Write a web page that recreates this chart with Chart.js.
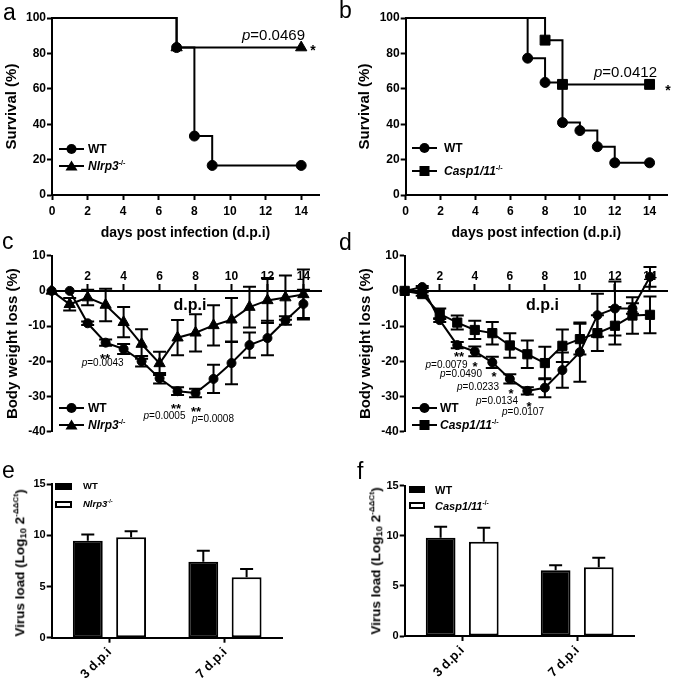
<!DOCTYPE html>
<html><head><meta charset="utf-8">
<script src="https://cdn.jsdelivr.net/npm/chart.js@4.4.1/dist/chart.umd.min.js"></script>
<style>
html,body{margin:0;padding:0;background:#fff;}
#fig{position:relative;width:675px;height:678px;overflow:hidden;background:#fff;font-family:"Liberation Sans",Arial,Helvetica,sans-serif;color:#000;}
#fig canvas{position:absolute;}
.t{position:absolute;white-space:nowrap;line-height:1;}
sup{font-size:0.6em;vertical-align:0.7em;line-height:0;}
sub{font-size:0.7em;vertical-align:-0.25em;line-height:0;}
</style></head>
<body>
<div id="fig">
<canvas id="cA" width="338" height="245" style="left:0;top:0"></canvas>
<canvas id="cB" width="337" height="245" style="left:338px;top:0"></canvas>
<canvas id="cC" width="338" height="195" style="left:0;top:245px"></canvas>
<canvas id="cD" width="337" height="195" style="left:338px;top:245px"></canvas>
<canvas id="cE" width="338" height="238" style="left:0;top:440px"></canvas>
<canvas id="cF" width="337" height="238" style="left:338px;top:440px"></canvas>
</div>
<script>
// ---------------- DATA ----------------
// a: survival, WT vs Nlrp3-/-
const aDaysWT = [0, 7, 8, 9, 14];
const aSurvWT = [100, 83.3, 33.3, 16.7, 16.7];
const aDaysKO = [0, 7, 14];
const aSurvKO = [100, 83.3, 83.3];
// b: survival, WT vs Casp1/11-/-
const bDaysWT = [0, 7, 8, 9, 10, 11, 12, 14];
const bSurvWT = [100, 77.3, 63.6, 40.9, 36.4, 27.3, 18.2, 18.2];
const bDaysKO = [0, 8, 9, 14];
const bSurvKO = [100, 87.5, 62.5, 62.5];
const survXTicks = [0, 2, 4, 6, 8, 10, 12, 14];
const survYTicks = [0, 20, 40, 60, 80, 100];
// c/d: body weight loss (%)
const weightDays = [0, 1, 2, 3, 4, 5, 6, 7, 8, 9, 10, 11, 12, 13, 14];
const cWT    = [0, 0, -9.2, -14.7, -16.5, -20.0, -24.8, -28.5, -29.0, -25.0, -20.5, -15.4, -13.4, -8.4, -3.7];
const cWTsem = [0, 0, 0.5, 0.9, 1.4, 1.5, 1.5, 1.1, 1.2, 4.0, 6.0, 3.6, 4.9, 1.2, 4.0];
const cKO    = [0, -3.8, -1.9, -4.0, -8.9, -15.1, -20.6, -13.3, -11.9, -9.8, -8.2, -4.6, -2.7, -1.9, -1.0];
const cKOsem = [0, 1.8, 2.2, 4.6, 4.3, 4.2, 3.3, 5.0, 5.3, 5.7, 6.2, 5.8, 6.4, 6.3, 7.1];
const dWT    = [0, 1.1, -8.3, -15.4, -17.2, -20.3, -25.0, -28.4, -27.5, -22.5, -17.4, -6.9, -5.0, -5.0, 4.0];
const dWTsem = [0, 0.3, 0.5, 0.9, 1.4, 1.6, 1.3, 1.0, 2.7, 5.0, 8.4, 6.1, 7.7, 1.5, 2.8];
const dKO    = [0, -0.9, -6.5, -9.0, -11.1, -12.0, -15.5, -18.0, -20.5, -15.6, -13.7, -12.0, -9.9, -7.0, -6.8];
const dKOsem = [0, 0.5, 1.5, 2.0, 2.6, 3.2, 3.5, 3.9, 4.6, 4.6, 4.4, 5.1, 5.3, 5.2, 5.2];
const weightXTicks = [2, 4, 6, 8, 10, 12, 14];
const weightYTicks = [-40, -30, -20, -10, 0, 10];
// e/f: virus load
const loadCats = ['3 d.p.i', '7 d.p.i'];
const eWT = [9.49, 7.43], eWTsem = [0.6, 1.08];
const eKO = [9.82, 5.90], eKOsem = [0.58, 0.82];
const fWT = [9.81, 6.55], fWTsem = [1.1, 0.5];
const fKO = [9.41, 6.85], fKOsem = [1.4, 0.97];
const loadYTicks = [0, 5, 10, 15];

// ---------------- HELPERS ----------------
const FONT = "'Liberation Sans', Arial, Helvetica, sans-serif";
const pts = (xs, ys) => xs.map((x, i) => ({x, y: ys[i]}));
const setTicks = arr => ax => { ax.ticks = arr.map(v => ({value: v})); };

const errorBars = {
  id: 'errorBars',
  draw(chart, opts) {
    const ctx = chart.ctx, ys = chart.scales.y;
    chart.data.datasets.forEach((ds, di) => {
      if (!ds.sem) return;
      const meta = chart.getDatasetMeta(di);
      ctx.save();
      ctx.strokeStyle = '#000';
      ctx.lineWidth = 2;
      meta.data.forEach((el, i) => {
        const raw = ds.data[i];
        const v = typeof raw === 'object' ? raw.y : raw;
        const e = ds.sem[i];
        if (!e) return;
        const hw = opts.cap || 6.5;
        const top = ys.getPixelForValue(v + e);
        const bot = opts.oneSided ? ys.getPixelForValue(v) : ys.getPixelForValue(v - e);
        ctx.beginPath();
        ctx.moveTo(el.x, top); ctx.lineTo(el.x, bot);
        ctx.moveTo(el.x - hw, top); ctx.lineTo(el.x + hw, top);
        if (!opts.oneSided) { ctx.moveTo(el.x - hw, bot); ctx.lineTo(el.x + hw, bot); }
        ctx.stroke();
      });
      ctx.restore();
    });
  },
  beforeDatasetsDraw(chart, args, opts) { if (chart.config.type === 'line') this.draw(chart, opts); },
  afterDatasetsDraw(chart, args, opts) { if (chart.config.type === 'bar') this.draw(chart, opts); }
};
Chart.register(errorBars);

function axis(size, tickLen, pad) {
  return {
    grid: {display: true, drawOnChartArea: false, drawTicks: true, tickLength: tickLen, tickWidth: 2, tickColor: '#000', color: '#000'},
    border: {display: true, color: '#000', width: 2},
    ticks: {color: '#000', font: {family: FONT, size: size, weight: 'bold'}, padding: pad, autoSkip: false, maxRotation: 0, minRotation: 0}
  };
}
function lineDS(label, data, style, r, hideFirst, sem, stepped) {
  return {
    label, data, sem,
    stepped: stepped ? 'before' : false,
    borderColor: '#000', backgroundColor: '#000', borderWidth: 2,
    pointStyle: style,
    pointRadius: c => (hideFirst && c.dataIndex === 0) ? 0 : r,
    pointBackgroundColor: '#000', pointBorderColor: '#000', pointBorderWidth: 1,
    fill: false, tension: 0, clip: false
  };
}
const baseOpts = {
  responsive: false, animation: false, devicePixelRatio: 1, events: [],
};

// ---------------- SURVIVAL (a, b) ----------------
function survChart(id, dsets, yW, padR, yTitlePad) {
  const xa = axis(12, 5, 4);
  const ya = axis(12, 5, 1);
  new Chart(document.getElementById(id), {
    type: 'line',
    data: {datasets: dsets},
    options: Object.assign({}, baseOpts, {
      layout: {padding: {left: 0, top: 18, right: padR, bottom: 0}},
      plugins: {legend: {display: false}, tooltip: {enabled: false}},
      scales: {
        x: Object.assign(xa, {type: 'linear', min: 0, max: 15, afterBuildTicks: setTicks(survXTicks),
          afterFit: s => { s.height = 50; },
          title: {display: true, text: 'days post infection (d.p.i)', color: '#000',
                  font: {family: FONT, size: 14, weight: 'bold'}, padding: {top: 0, bottom: 3}}}),
        y: Object.assign(ya, {type: 'linear', min: 0, max: 100, afterBuildTicks: setTicks(survYTicks),
          afterFit: s => { s.width = yW; },
          title: {display: true, text: 'Survival (%)', color: '#000',
                  font: {family: FONT, size: 15, weight: 'bold'}, padding: {top: yTitlePad, bottom: 0}}})
      }
    })
  });
}
survChart('cA', [
  lineDS('WT', pts(aDaysWT, aSurvWT), 'circle', 5, true, null, true),
  lineDS('Nlrp3-/-', pts(aDaysKO, aSurvKO), 'triangle', 6.5, true, null, true)
], 52, 19, 3);
survChart('cB', [
  lineDS('WT', pts(bDaysWT, bSurvWT), 'circle', 5, true, null, true),
  lineDS('Casp1/11-/-', pts(bDaysKO, bSurvKO), 'rect', 7, true, null, true)
], 67.7, 3.3, 18);

// ---------------- WEIGHT (c, d) ----------------
function weightChart(id, dsets, yW, padR, yTitlePad) {
  const xa = axis(12, -8, -13);
  const ya = axis(12, 5, 1);
  new Chart(document.getElementById(id), {
    type: 'line',
    data: {datasets: dsets},
    options: Object.assign({}, baseOpts, {
      layout: {padding: {left: 0, top: 10.7, right: padR, bottom: 8.3}},
      plugins: {legend: {display: false}, tooltip: {enabled: false}, errorBars: {cap: 6.5}},
      scales: {
        x: Object.assign(xa, {type: 'linear', position: {y: 0}, min: 0, max: 15,
          afterBuildTicks: setTicks(weightXTicks), afterFit: s => { s.height = 0; }}),
        y: Object.assign(ya, {type: 'linear', min: -40, max: 10, afterBuildTicks: setTicks(weightYTicks),
          afterFit: s => { s.width = yW; },
          title: {display: true, text: 'Body weight loss (%)', color: '#000',
                  font: {family: FONT, size: 15, weight: 'bold'}, padding: {top: yTitlePad, bottom: 0}}})
      }
    })
  });
}
weightChart('cC', [
  lineDS('WT', pts(weightDays, cWT), 'circle', 4.5, false, cWTsem, false),
  lineDS('Nlrp3-/-', pts(weightDays, cKO), 'triangle', 6.5, false, cKOsem, false)
], 51.7, 16.6, 4);
weightChart('cD', [
  lineDS('WT', pts(weightDays, dWT), 'circle', 4.5, false, dWTsem, false),
  lineDS('Casp1/11-/-', pts(weightDays, dKO), 'rect', 6.5, false, dKOsem, false)
], 66.7, 0.6, 19);

// ---------------- VIRUS LOAD (e, f) ----------------
function loadChart(id, wt, wtS, ko, koS, koLabel, yW, padT, padR, xH) {
  const xa = axis(13, 5, 2);
  const ya = axis(11, 5, 1);
  xa.grid.offset = false;
  xa.ticks.minRotation = 45; xa.ticks.maxRotation = 45;
  const bar = {borderColor: '#000', borderWidth: 2, borderSkipped: false, barPercentage: 0.69, categoryPercentage: 0.75};
  new Chart(document.getElementById(id), {
    type: 'bar',
    data: {labels: loadCats, datasets: [
      Object.assign({label: 'WT', data: wt, sem: wtS, backgroundColor: '#000'}, bar),
      Object.assign({label: koLabel, data: ko, sem: koS, backgroundColor: '#fff'}, bar)
    ]},
    options: Object.assign({}, baseOpts, {
      layout: {padding: {left: 0, top: padT, right: padR, bottom: 0}},
      plugins: {legend: {display: false}, tooltip: {enabled: false}, errorBars: {cap: 6.5, oneSided: true}},
      scales: {
        x: Object.assign(xa, {type: 'category', offset: true, afterFit: s => { s.height = xH; }}),
        y: Object.assign(ya, {type: 'linear', min: 0, max: 15, afterBuildTicks: setTicks(loadYTicks),
          afterFit: s => { s.width = yW; }})
      }
    })
  });
}
loadChart('cE', eWT, eWTsem, eKO, eKOsem, 'Nlrp3-/-', 51.7, 44.3, 55.3, 40.3);
loadChart('cF', fWT, fWTsem, fKO, fKOsem, 'Casp1/11-/-', 66.7, 45.7, 40.3, 42);

// ---------------- TEXT OVERLAYS ----------------
const fig = document.getElementById('fig');
function put(html, x, y, css, anchor) {
  const d = document.createElement('div');
  d.className = 't';
  d.innerHTML = html;
  d.style.cssText += `left:${x}px;top:${y}px;` + (css || '');
  d.style.transform = {c: 'translate(-50%,-50%)', l: 'translate(0,-50%)', n: 'none'}[anchor || 'c'];
  fig.appendChild(d);
  return d;
}
function letter(ch, x, base) {
  const S = 23;
  put(ch, x, base - 0.8465 * S, `font-size:${S}px;`, 'n');
}
letter('a', 3, 20); letter('b', 339, 18);
letter('c', 2, 249); letter('d', 339, 250);
letter('e', 2, 478); letter('f', 357, 479);

// p-values and stars
const pv = (t, x, y, s) => put(`<i>p</i>=${t}`, x, y, `font-size:${s}px;`);
const star = (t, x, y, s) => put(t, x, y + 0.233 * s, `font-size:${s}px;font-weight:bold;`);
pv('0.0469', 273.5, 34, 15); star('*', 313, 47, 14);
pv('0.0412', 625.5, 71, 15); star('*', 668, 87, 14);
star('**', 105, 355, 13); pv('0.0043', 102.7, 363, 10);
star('**', 176, 405, 13); pv('0.0005', 164.5, 416, 10);
star('**', 196, 407.5, 13); pv('0.0008', 213, 418.7, 10);
star('**', 459, 352.5, 13); pv('0.0079', 446.5, 365, 10);
star('*', 475, 363, 13); pv('0.0490', 461, 374, 10);
star('*', 494, 373, 13); pv('0.0233', 478, 386.5, 10);
star('*', 511, 390, 13); pv('0.0134', 497, 400.5, 10);
star('*', 529, 403, 13); pv('0.0107', 523, 412, 10);
put('d.p.i', 190, 305, 'font-size:16px;font-weight:bold;');
put('d.p.i', 542.5, 305, 'font-size:16px;font-weight:bold;');

// legends with line+marker symbols
function sym(shape, cx, cy, len) {
  const w = len, h = 14, mx = w / 2;
  let m = '';
  if (shape === 'circle') m = `<circle cx="${mx}" cy="7" r="5" fill="#000"/>`;
  if (shape === 'triangle') m = `<polygon points="${mx},1.5 ${mx + 6},11.5 ${mx - 6},11.5" fill="#000"/>`;
  if (shape === 'rect') m = `<rect x="${mx - 5}" y="2" width="10" height="10" fill="#000"/>`;
  const d = document.createElement('div');
  d.innerHTML = `<svg width="${w}" height="${h}" style="position:absolute;left:${cx - w / 2}px;top:${cy - 7}px"><line x1="0" y1="7" x2="${w}" y2="7" stroke="#000" stroke-width="2"/>${m}</svg>`;
  fig.appendChild(d.firstChild);
}
const KO1 = '<i>Nlrp3</i><sup>-/-</sup>';
const KO2 = '<i>Casp1/11</i><sup>-/-</sup>';
function lineLegend(x, xText, y1, y2, shape2, label2, size) {
  sym('circle', x, y1, 25); sym(shape2, x, y2, 25);
  put('WT', xText, y1, `font-size:${size}px;font-weight:bold;`, 'l');
  put(label2, xText, y2, `font-size:${size}px;font-weight:bold;`, 'l');
}
lineLegend(71, 88, 149, 166, 'triangle', KO1, 12);
lineLegend(424, 444, 148, 171, 'rect', KO2, 12);
lineLegend(71, 88, 407.7, 425, 'triangle', KO1, 12);
lineLegend(424, 440, 408.3, 425, 'rect', KO2, 12);

function barLegend(x, xText, y1, y2, label2, size, w) {
  const r1 = document.createElement('div');
  r1.style.cssText = `position:absolute;left:${x}px;top:${y1 - 3.5}px;width:${w}px;height:7px;background:#000;box-sizing:border-box;`;
  const r2 = document.createElement('div');
  r2.style.cssText = `position:absolute;left:${x}px;top:${y2 - 3.5}px;width:${w}px;height:7px;background:#fff;border:2px solid #000;box-sizing:border-box;`;
  fig.appendChild(r1); fig.appendChild(r2);
  put('WT', xText, y1, `font-size:${size}px;font-weight:bold;`, 'l');
  put(label2, xText, y2, `font-size:${size}px;font-weight:bold;`, 'l');
}
barLegend(55, 83, 486, 504, KO1, 9.5, 17);
barLegend(409, 435, 489.5, 505.5, KO2, 11, 16);

// y titles of e / f (sub/superscripts)
const vl = 'Virus load (Log<sub>10</sub> 2<sup>-ΔΔCt</sup>)';
put(vl, 20, 563, 'font-size:13.5px;font-weight:bold;').style.transform = 'translate(-50%,-50%) rotate(-90deg)';
put(vl, 376, 561, 'font-size:13.5px;font-weight:bold;').style.transform = 'translate(-50%,-50%) rotate(-90deg)';
</script>
</body></html>
